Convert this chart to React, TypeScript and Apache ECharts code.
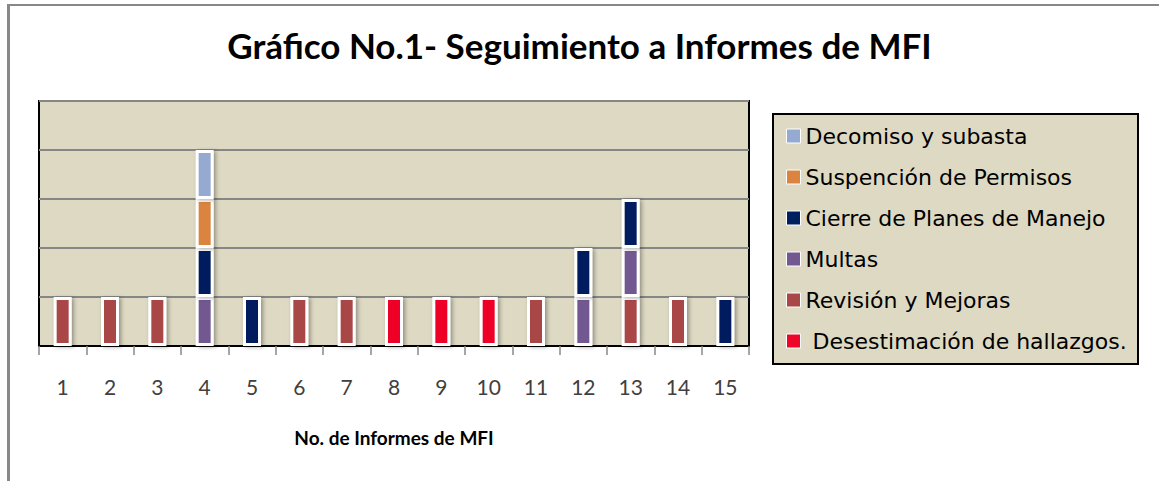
import React, { useEffect, useRef } from "react";
import * as echarts from "echarts";

const categories = ["1", "2", "3", "4", "5", "6", "7", "8", "9", "10", "11", "12", "13", "14", "15"];
const desestimacion = [0, 0, 0, 0, 0, 0, 0, 1, 1, 1, 0, 0, 0, 0, 0];
const revision = [1, 1, 1, 0, 0, 1, 1, 0, 0, 0, 1, 0, 1, 1, 0];
const multas = [0, 0, 0, 1, 0, 0, 0, 0, 0, 0, 0, 1, 1, 0, 0];
const cierre = [0, 0, 0, 1, 1, 0, 0, 0, 0, 0, 0, 1, 1, 0, 1];
const suspension = [0, 0, 0, 1, 0, 0, 0, 0, 0, 0, 0, 0, 0, 0, 0];
const decomiso = [0, 0, 0, 1, 0, 0, 0, 0, 0, 0, 0, 0, 0, 0, 0];

const seriesNames = [
  " Desestimación de hallazgos.",
  "Revisión y Mejoras",
  "Multas",
  "Cierre de Planes de Manejo",
  "Suspención de Permisos",
  "Decomiso y subasta",
];
const seriesData = [desestimacion, revision, multas, cierre, suspension, decomiso];
const seriesColors = ["#EE0628", "#A94646", "#725990", "#001F5F", "#DA843F", "#95A9D1"];

export default function App() {
  const ref = useRef<HTMLDivElement>(null);
  useEffect(() => {
    document.body.style.margin = "0";
    if (!ref.current) return;
    const chart = echarts.init(ref.current, null, { renderer: "svg" });
    const series = seriesNames.map((name, i) => ({
      name,
      type: "bar",
      stack: "total",
      barWidth: 18,
      data: seriesData[i].map((v) => (v === 0 ? null : v)),
      itemStyle: {
        color: seriesColors[i],
        borderColor: "#FFFFFF",
        borderWidth: 3,
        shadowBlur: 4,
        shadowColor: "rgba(0,0,0,0.35)",
        shadowOffsetX: 2,
        shadowOffsetY: 1,
      },
    }));
    chart.setOption({
      animation: false,
      backgroundColor: "#FFFFFF",
      title: {
        text: "Gráfico No.1- Seguimiento a Informes de MFI",
        left: "center",
        top: 22,
        textStyle: {
          fontFamily: "Lato",
          fontWeight: "bold",
          fontSize: 35,
          color: "#000000",
        },
      },
      graphic: [
        { type: "line", shape: { x1: 8.5, y1: 5, x2: 8.5, y2: 481 }, style: { stroke: "#888888", lineWidth: 3 }, z: 0 },
        { type: "line", shape: { x1: 7, y1: 5, x2: 1159, y2: 5 }, style: { stroke: "#888888", lineWidth: 2 }, z: 0 },
        {
          type: "rect",
          shape: { x: 773, y: 114, width: 365, height: 250 },
          style: { fill: "#DDD9C3", stroke: "#000000", lineWidth: 2 },
          z: 0,
        },
      ],
      legend: {
        orient: "vertical",
        left: 781,
        top: 120,
        itemWidth: 14,
        itemHeight: 14,
        itemGap: 19,
        icon: "rect",
        z: 10,
        data: [...seriesNames].reverse(),
        itemStyle: { borderWidth: 1, borderColor: "#FFFFFF", shadowBlur: 0, shadowOffsetX: 0, shadowOffsetY: 0 },
        textStyle: { fontFamily: "DejaVu Sans", fontSize: 22, lineHeight: 20, color: "#000000", padding: 0 },
      },
      grid: {
        left: 39,
        top: 101,
        right: 410,
        bottom: 135,
        show: true,
        backgroundColor: "#DDD9C3",
        borderColor: "#000000",
        borderWidth: 2,
      },
      xAxis: {
        type: "category",
        data: categories,
        name: "No. de Informes de MFI",
        nameLocation: "middle",
        nameGap: 82,
        nameTextStyle: { fontFamily: "Lato", fontWeight: "bold", fontSize: 19, color: "#000000" },
        axisLine: { lineStyle: { color: "#000000", width: 2 } },
        axisTick: { show: true, length: 9, lineStyle: { color: "#888888", width: 1.5 } },
        axisLabel: { fontFamily: "Lato", fontSize: 21, color: "#404040", margin: 30 },
      },
      yAxis: {
        type: "value",
        min: 0,
        max: 5,
        interval: 1,
        axisLine: { show: false },
        axisTick: { show: false },
        axisLabel: { show: false },
        splitLine: { lineStyle: { color: "#868686", width: 2 } },
      },
      series,
    });
    return () => chart.dispose();
  }, []);
  return <div ref={ref} style={{ width: 1159, height: 481 }} />;
}
